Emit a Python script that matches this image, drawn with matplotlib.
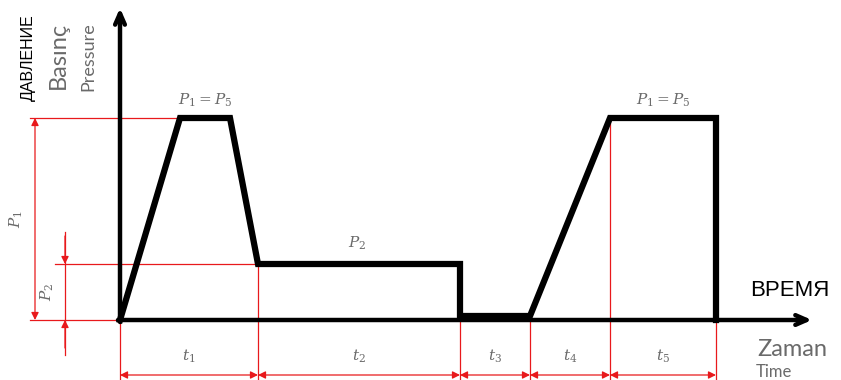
import numpy as np
import matplotlib
matplotlib.use('Agg')
import matplotlib.pyplot as plt

# pressure profile (time, pressure) in drawing units
time_pts = [0, 60, 110, 138, 340, 340, 410, 490, 596, 596]
press_pts = [0, 202, 202, 56, 56, 4, 4, 202, 202, 0]
# phase boundaries on the time axis
phase_edges = [0, 138, 340, 410, 490, 596]
phase_labels = ['$t_1$', '$t_2$', '$t_3$', '$t_4$', '$t_5$']
P1 = 202
P2 = 56

red = '#e8191c'
grey = '#6a6a6a'
plt.rcParams['mathtext.fontset'] = 'dejavuserif'

fig = plt.figure(figsize=(8.41, 3.8), dpi=100)
ax = fig.add_axes([0, 0, 1, 1])
ax.set_xlim(-120, 721)
ax.set_ylim(-60, 320)
ax.axis('off')

# red guide lines
ax.plot([-90, 60], [P1, P1], color=red, lw=0.9)
ax.plot([-65, 138], [P2, P2], color=red, lw=0.9)
ax.plot([-90, 0], [0, 0], color=red, lw=0.9)
ax.plot([0, 0], [0, -60], color=red, lw=0.9)
ax.plot([138, 138], [P2, -60], color=red, lw=0.9)
ax.plot([340, 340], [4, -60], color=red, lw=0.9)
ax.plot([410, 410], [0, -60], color=red, lw=0.9)
ax.plot([490, 490], [P1, -60], color=red, lw=0.9)
ax.plot([596, 596], [0, -60], color=red, lw=0.9)

arrow_kw = dict(color=red, lw=0.9, mutation_scale=11, shrinkA=0, shrinkB=0)

# P1 dimension
ax.annotate('', xy=(-85, P1), xytext=(-85, 0), arrowprops=dict(arrowstyle='<|-|>', **arrow_kw))
ax.text(-104, P1 / 2, '$P_1$', rotation=90, ha='center', va='center', fontsize=11, color=grey)
# P2 dimension (arrows pointing inward from outside)
ax.plot([-55, -55], [P2 + 32, -35], color=red, lw=0.9)
ax.annotate('', xy=(-55, P2), xytext=(-55, P2 + 28), arrowprops=dict(arrowstyle='-|>', **arrow_kw))
ax.annotate('', xy=(-55, 0), xytext=(-55, -28), arrowprops=dict(arrowstyle='-|>', **arrow_kw))
ax.text(-73, P2 / 2, '$P_2$', rotation=90, ha='center', va='center', fontsize=11, color=grey)

# time dimensions
for a, b, lab in zip(phase_edges[:-1], phase_edges[1:], phase_labels):
    ax.annotate('', xy=(a, -55), xytext=(b, -55), arrowprops=dict(arrowstyle='<|-|>', **arrow_kw))
    ax.text((a + b) / 2, -36, lab, ha='center', va='center', fontsize=11, color=grey)

# axes with arrows
head = '->,head_length=0.8,head_width=0.35'
ax.annotate('', xy=(0, 312), xytext=(0, -2),
            arrowprops=dict(arrowstyle=head, color='black', lw=3.2, shrinkA=0, shrinkB=0))
ax.annotate('', xy=(692, 0), xytext=(-2, 0),
            arrowprops=dict(arrowstyle=head, color='black', lw=3.2, shrinkA=0, shrinkB=0))

# pressure profile
ax.plot(time_pts, press_pts, color='black', lw=4.5, solid_joinstyle='miter')

# labels
ax.text(85, P1 + 18, '$P_1 = P_5$', ha='center', va='center', fontsize=11, color=grey)
ax.text(490 + 53, P1 + 18, '$P_1 = P_5$', ha='center', va='center', fontsize=11, color=grey)
ax.text(237, P2 + 21, '$P_2$', ha='center', va='center', fontsize=11, color=grey)

ax.text(-92, 262, 'ДАВЛЕНИЕ', rotation=90, ha='center', va='center', fontsize=11.5,
        family=['Liberation Sans', 'DejaVu Sans'])
ax.text(-62, 265, 'Basınç', rotation=90, ha='center', va='center', fontsize=17, color=grey,
        family=['Lato', 'DejaVu Sans'])
ax.text(-32, 263, 'Pressure', rotation=90, ha='center', va='center', fontsize=13, color=grey,
        family=['Lato', 'DejaVu Sans'])

ax.text(670, 30, 'ВРЕМЯ', ha='center', va='center', fontsize=16,
        family=['Liberation Sans', 'DejaVu Sans'])
ax.text(672, -30, 'Zaman', ha='center', va='center', fontsize=17, color=grey,
        family=['Lato', 'DejaVu Sans'])
ax.text(636, -52, 'Time', ha='left', va='center', fontsize=12, color=grey,
        family=['Lato', 'DejaVu Sans'])

fig.savefig('out.png', dpi=100)
